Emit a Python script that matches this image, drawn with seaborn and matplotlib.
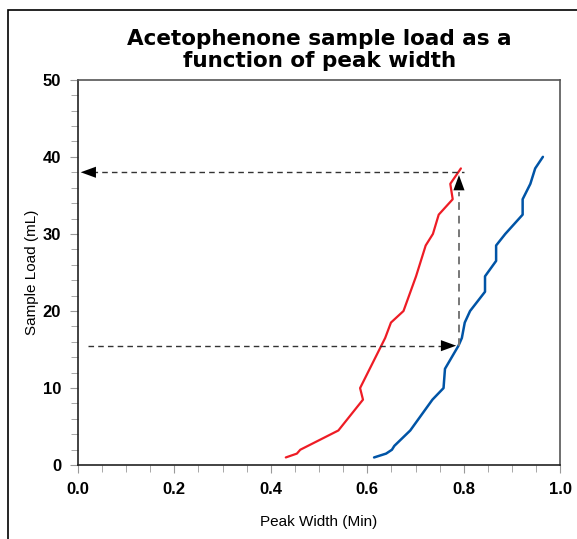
import matplotlib
matplotlib.use("Agg")
from matplotlib import pyplot as plt
from matplotlib.patches import Rectangle
from matplotlib.ticker import MultipleLocator
import pandas as pd
import seaborn as sns

# red curve (peak width, sample load)
red_width = [0.431, 0.454, 0.461, 0.540, 0.591, 0.585, 0.637, 0.649, 0.675, 0.701,
             0.721, 0.736, 0.748, 0.777, 0.772, 0.794]
red_load = [1.0, 1.5, 2.0, 4.5, 8.5, 10.0, 16.5, 18.5, 20.0, 24.5,
            28.5, 30.0, 32.5, 34.5, 36.5, 38.5]

# blue curve
blue_width = [0.614, 0.639, 0.651, 0.656, 0.689, 0.735, 0.758, 0.761, 0.789, 0.796,
              0.802, 0.813, 0.844, 0.844, 0.867, 0.867, 0.886, 0.922, 0.922, 0.938,
              0.948, 0.964]
blue_load = [1.0, 1.5, 2.0, 2.5, 4.5, 8.5, 10.0, 12.5, 15.5, 16.5,
             18.5, 20.0, 22.5, 24.5, 26.5, 28.5, 30.0, 32.5, 34.5, 36.5,
             38.5, 40.0]

# arrow readings
arrow_x = 0.79
load_low = 15.5
load_high = 38.0

sns.set_style("white")
plt.rcParams['font.family'] = ['Liberation Sans', 'DejaVu Sans']
plt.rcParams['text.color'] = 'black'

red = pd.DataFrame({"width": red_width, "load": red_load})
blue = pd.DataFrame({"width": blue_width, "load": blue_load})

fig = plt.figure(figsize=(5.77, 5.39), dpi=100)
ax = fig.add_axes([0.135, 0.137, 0.836, 0.715])

sns.lineplot(data=red, x="width", y="load", sort=False, estimator=None,
             color="#ee1c25", linewidth=1.6, ax=ax)
sns.lineplot(data=blue, x="width", y="load", sort=False, estimator=None,
             color="#0054a6", linewidth=1.8, ax=ax)

# dashed reading lines
dash = (0, (4, 3))
ax.plot([0.02, arrow_x - 0.02], [load_low, load_low], ls=dash, color="#333333", lw=1)
ax.plot([0.03, 0.8], [load_high, load_high], ls=dash, color="#333333", lw=1)
ax.plot([arrow_x, arrow_x], [load_low, load_high - 2.5], ls=dash, color="#777777", lw=1.4)
head = dict(arrowstyle="-|>,head_length=1.1,head_width=0.4", color="black", lw=0)
ax.annotate("", xy=(0.0, load_high), xytext=(0.05, load_high), arrowprops=head)
ax.annotate("", xy=(arrow_x, load_low), xytext=(arrow_x - 0.05, load_low), arrowprops=head)
ax.annotate("", xy=(arrow_x, load_high), xytext=(arrow_x, load_high - 3.5), arrowprops=head)

ax.set_xlim(0, 1.0)
ax.set_ylim(0, 50)
ax.xaxis.set_major_locator(MultipleLocator(0.2))
ax.xaxis.set_minor_locator(MultipleLocator(0.05))
ax.yaxis.set_major_locator(MultipleLocator(10))
ax.yaxis.set_minor_locator(MultipleLocator(2))
ax.set_xticklabels([f"{v:.1f}" for v in ax.get_xticks()])
ax.tick_params(axis="both", which="both", direction="out", color="#999999",
               bottom=True, left=True, labelcolor="black")
ax.tick_params(which="major", length=6, labelsize=12, pad=6)
ax.tick_params(which="minor", length=5)
for lbl in ax.get_xticklabels() + ax.get_yticklabels():
    lbl.set_fontweight("bold")

for side in ["left", "bottom"]:
    ax.spines[side].set_color("#222222")
for side in ["top", "right"]:
    ax.spines[side].set_color("#555555")
for s in ax.spines.values():
    s.set_linewidth(1.2)

ax.set_xlabel("Peak Width (Min)", fontsize=11, labelpad=13, color="black")
ax.set_ylabel("Sample Load (mL)", fontsize=11, labelpad=3, color="black")

fig.text(0.553, 0.907, "Acetophenone sample load as a\nfunction of peak width",
         ha="center", va="center", fontsize=15.5, fontweight="heavy",
         family=["DejaVu Sans"], linespacing=1.1, color="black")

fig.patches.append(Rectangle((8 / 577, -0.1), 1.1, 1 - 10 / 539 + 0.1,
                             transform=fig.transFigure, fill=False,
                             edgecolor="black", linewidth=1.2))

plt.savefig("out.png", dpi=100)
